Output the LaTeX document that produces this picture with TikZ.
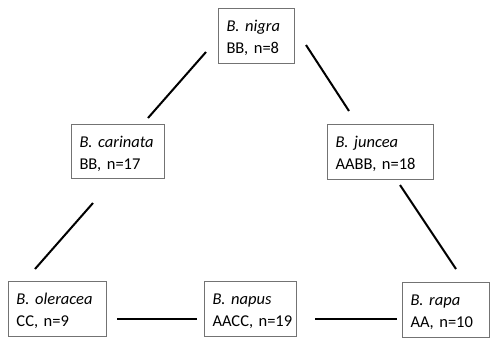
\documentclass[tikz,border=0pt]{standalone}
\usepackage{fontspec}
\setmainfont{Carlito}
\newcommand{\spx}[2]{\hspace*{8pt}\rule{0pt}{16pt}\mbox{\textit{#1}}\\\hspace*{8pt}\mbox{#2}}
\begin{document}
\frenchspacing
\begin{tikzpicture}[x=1pt,y=-1pt,
  sp/.style={draw=black!55, line width=1pt, anchor=north west, align=left,
    inner xsep=0pt, inner ysep=0pt, font=\fontsize{16.5}{22}\selectfont},
  link/.style={line width=2pt, black}]
\useasboundingbox (0,0) rectangle (491,338);
\node[sp, text width=76pt, minimum height=55pt] (nigra) at (218,8) {\spx{B. nigra}{BB, n=8}};
\node[sp, text width=93pt, minimum height=54pt] (carinata) at (71,124) {\spx{B. carinata}{BB, n=17}};
\node[sp, text width=106pt, minimum height=55pt] (juncea) at (327,124) {\spx{B. juncea}{AABB, n=18}};
\node[sp, text width=98pt, minimum height=55pt] (oleracea) at (8,281) {\spx{B. oleracea}{CC, n=9}};
\node[sp, text width=92pt, minimum height=55pt] (napus) at (204,281) {\spx{B. napus}{AACC, n=19}};
\node[sp, text width=87pt, minimum height=55pt] (rapa) at (402,282) {\spx{B. rapa}{AA, n=10}};
\coordinate (nc1) at (206,52); \coordinate (nc2) at (148,118);
\coordinate (nj1) at (306,45); \coordinate (nj2) at (349,111);
\coordinate (co1) at (93,203); \coordinate (co2) at (35,269);
\coordinate (jr1) at (400,185); \coordinate (jr2) at (456,269);
\coordinate (on1) at (117,319); \coordinate (on2) at (197,319);
\coordinate (nr1) at (315,319); \coordinate (nr2) at (397,319);
\draw[link] (nc1) -- (nc2);
\draw[link] (nj1) -- (nj2);
\draw[link] (co1) -- (co2);
\draw[link] (jr1) -- (jr2);
\draw[link] (on1) -- (on2);
\draw[link] (nr1) -- (nr2);
\end{tikzpicture}
\end{document}
